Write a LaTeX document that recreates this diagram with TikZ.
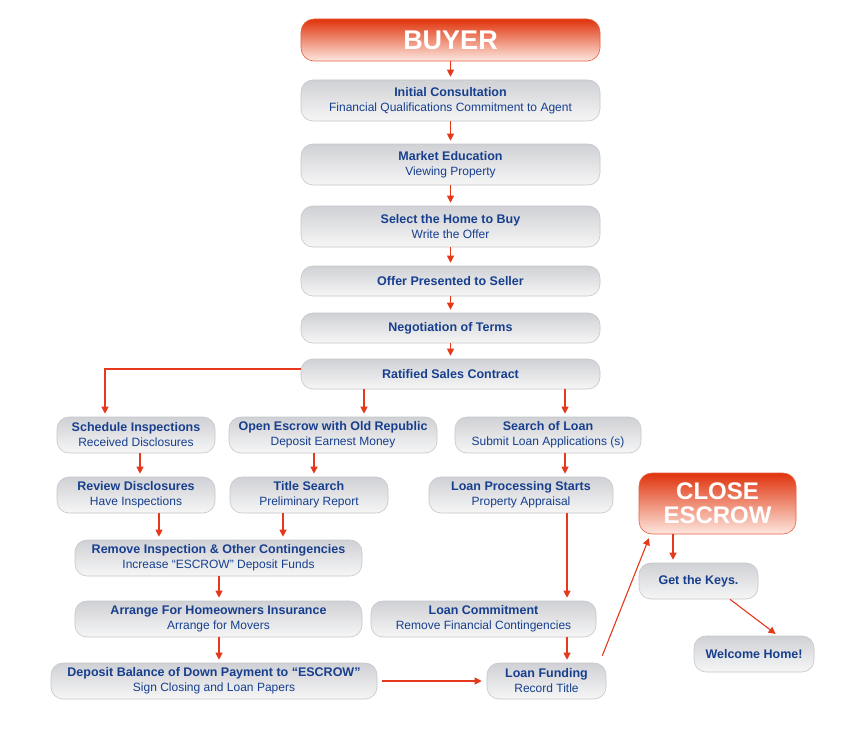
\documentclass[tikz,border=0pt]{standalone}
\usepackage{fontspec}
\setmainfont{Liberation Sans}
\usetikzlibrary{arrows.meta}
\definecolor{txtblue}{HTML}{173F8E}
\definecolor{arrred}{HTML}{E5391B}
\definecolor{gtop}{HTML}{D0D1D5}
\definecolor{gbot}{HTML}{F6F6F6}
\definecolor{gedge}{HTML}{C6C7CA}
\definecolor{rtop}{HTML}{E0330C}
\definecolor{rmid}{HTML}{EE6E4C}
\definecolor{rbot}{HTML}{FDE8E0}
\definecolor{redge}{HTML}{E8603E}
\tikzset{
  gbox/.style={draw=gedge, line width=0.6pt, rounded corners=12pt,
    top color=gtop, bottom color=gbot, text=txtblue, align=center,
    inner sep=0pt, font=\fontsize{12}{15}\selectfont},
  rbox/.style={draw=redge, line width=0.6pt, rounded corners=13pt,
    top color=rtop, middle color=rmid, bottom color=rbot, text=white, align=center,
    inner sep=0pt, font=\fontsize{27}{24}\selectfont\bfseries},
  arr/.style={draw=arrred, line width=1.1pt, shorten >=3pt,
    -{Triangle[length=7pt,width=7pt]}}
}
\newcommand{\tl}[1]{{\fontsize{12.5}{15}\selectfont\bfseries #1}}
\begin{document}
\begin{tikzpicture}[x=1pt,y=-1pt]
\useasboundingbox[fill=white] (0,0) rectangle (850,733);
% top column
\node[rbox, minimum width=299, minimum height=42] (buyer) at (450.5,40) {BUYER};
\node[gbox, minimum width=299, minimum height=41] (init) at (450.5,100.5) {\tl{Initial Consultation}\\Financial Qualifications Commitment to Agent};
\node[gbox, minimum width=299, minimum height=41] (market) at (450.5,164.5) {\tl{Market Education}\\Viewing Property};
\node[gbox, minimum width=299, minimum height=41] (select) at (450.5,226.5) {\tl{Select the Home to Buy}\\Write the Offer};
\node[gbox, minimum width=299, minimum height=30] (offer) at (450.5,281) {\tl{Offer Presented to Seller}};
\node[gbox, minimum width=299, minimum height=30] (nego) at (450.5,328) {\tl{Negotiation of Terms}};
\node[gbox, minimum width=299, minimum height=30] (ratified) at (450.5,374) {\tl{Ratified Sales Contract}};
% branches
\node[gbox, minimum width=158, minimum height=36] (sched) at (136,435) {\tl{Schedule Inspections}\\Received Disclosures};
\node[gbox, minimum width=208, minimum height=36] (openesc) at (333,435) {\tl{Open Escrow with Old Republic}\\Deposit Earnest Money};
\node[gbox, minimum width=186, minimum height=36] (search) at (548,435) {\tl{Search of Loan}\\Submit Loan Applications (s)};
\node[gbox, minimum width=158, minimum height=36] (review) at (136,495) {\tl{Review Disclosures}\\Have Inspections};
\node[gbox, minimum width=158, minimum height=36] (title) at (309,495) {\tl{Title Search}\\Preliminary Report};
\node[gbox, minimum width=184, minimum height=36] (loanproc) at (521,495) {\tl{Loan Processing Starts}\\Property Appraisal};
\node[gbox, minimum width=287, minimum height=36] (remove) at (218.5,558) {\tl{Remove Inspection \& Other Contingencies}\\Increase “ESCROW” Deposit Funds};
\node[gbox, minimum width=287, minimum height=36] (arrange) at (218.5,619) {\tl{Arrange For Homeowners Insurance}\\Arrange for Movers};
\node[gbox, minimum width=326, minimum height=36] (deposit) at (214,681) {\tl{Deposit Balance of Down Payment to “ESCROW”}\\Sign Closing and Loan Papers};
\node[gbox, minimum width=225, minimum height=36] (commit) at (483.5,619) {\tl{Loan Commitment}\\Remove Financial Contingencies};
\node[gbox, minimum width=119, minimum height=36] (funding) at (546.5,681) {\tl{Loan Funding}\\Record Title};
\node[rbox, minimum width=157, minimum height=61, font=\fontsize{24}{24}\selectfont\bfseries] (close) at (717.5,503.5) {CLOSE\\ESCROW};
\node[gbox, minimum width=119, minimum height=36] (keys) at (698.5,581) {\tl{Get the Keys.}};
\node[gbox, minimum width=120, minimum height=36] (welcome) at (754,654) {\tl{Welcome Home!}};
% connectors
\draw[arr] (buyer.south) -- (init.north);
\draw[arr] (init.south) -- (market.north);
\draw[arr] (market.south) -- (select.north);
\draw[arr] (select.south) -- (offer.north);
\draw[arr] (offer.south) -- (nego.north);
\draw[arr] (nego.south) -- (ratified.north);
\draw[arr] ([yshift=5pt]ratified.west) -| (sched.north -| 105,0);
\draw[arr] (ratified.south -| 364,0) -- (openesc.north -| 364,0);
\draw[arr] (ratified.south -| 565,0) -- (search.north -| 565,0);
\draw[arr] (sched.south -| 140,0) -- (review.north -| 140,0);
\draw[arr] (openesc.south -| 314,0) -- (title.north -| 314,0);
\draw[arr] (search.south -| 565,0) -- (loanproc.north -| 565,0);
\draw[arr] (review.south -| 159,0) -- (remove.north -| 159,0);
\draw[arr] (title.south -| 283,0) -- (remove.north -| 283,0);
\draw[arr] (remove.south -| 219,0) -- (arrange.north -| 219,0);
\draw[arr] (arrange.south -| 219,0) -- (deposit.north -| 219,0);
\draw[arr] (loanproc.south -| 567,0) -- (commit.north -| 567,0);
\draw[arr] (commit.south -| 567,0) -- (funding.north -| 567,0);
\draw[arr, shorten <=5pt, shorten >=5pt] (deposit.east) -- (funding.west);
\draw[arr, shorten >=2pt] ([xshift=-4pt,yshift=7pt]funding.north east) -- ([xshift=11pt,yshift=-2pt]close.south west);
\draw[arr] (close.south -| 673,0) -- (keys.north -| 673,0);
\draw[arr] ([xshift=31.5pt]keys.south) -- ([xshift=24pt]welcome.north);
\end{tikzpicture}
\end{document}
